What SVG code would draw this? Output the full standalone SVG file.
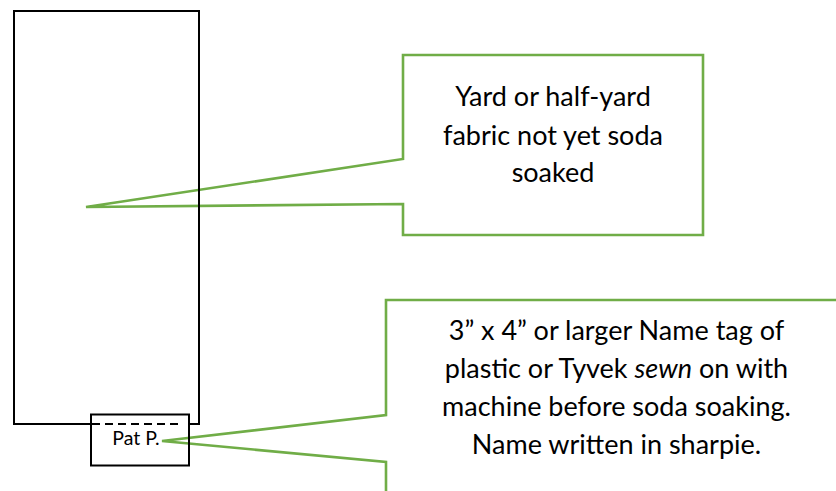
<svg xmlns="http://www.w3.org/2000/svg" width="836" height="491" viewBox="0 0 836 491">
  <style>
    .callout { fill: #ffffff; stroke: #70AD47; stroke-width: 2.6; stroke-linejoin: miter; }
    .shape { fill: none; stroke: #000000; stroke-width: 2; }
    .txt { font-family: Lato, "Liberation Sans", sans-serif; fill: #000000; text-anchor: middle; }
    .big { font-size: 27px; }
    .small { font-size: 19.5px; }
  </style>
  <rect width="836" height="491" fill="#ffffff"/>
  <g id="callout-fabric">
    <path class="callout" d="M403,55 L703,55 L703,235 L403,235 L403,204 L86,207 L403,159 Z"/>
    <text class="txt big" x="553" y="106">Yard or half-yard</text>
    <text class="txt big" x="553" y="144.5">fabric not yet soda</text>
    <text class="txt big" x="553" y="182">soaked</text>
  </g>
  <g id="callout-tag">
    <path class="callout" d="M386,495 L386,462 L162,441 L386,415 L386,300 L840,300 L840,495 Z"/>
    <text class="txt big" x="616.5" y="340">3” x 4” or larger Name tag of</text>
    <text class="txt big" x="616.5" y="378">plastic or Tyvek <tspan font-style="italic">sewn</tspan> on with</text>
    <text class="txt big" x="616.5" y="416">machine before soda soaking.</text>
    <text class="txt big" x="616.5" y="454">Name written in sharpie.</text>
  </g>
  <g id="fabric">
    <path class="shape" d="M91,424 L14,424 L14,11 L199,11 L199,424 L189,424"/>
  </g>
  <g id="name-tag">
    <rect class="shape" x="91" y="414.5" width="98" height="51"/>
    <line x1="92" y1="424" x2="182" y2="424" stroke="#000000" stroke-width="2" stroke-dasharray="8 5"/>
    <text class="txt small" x="136" y="445">Pat P.</text>
  </g>
</svg>
